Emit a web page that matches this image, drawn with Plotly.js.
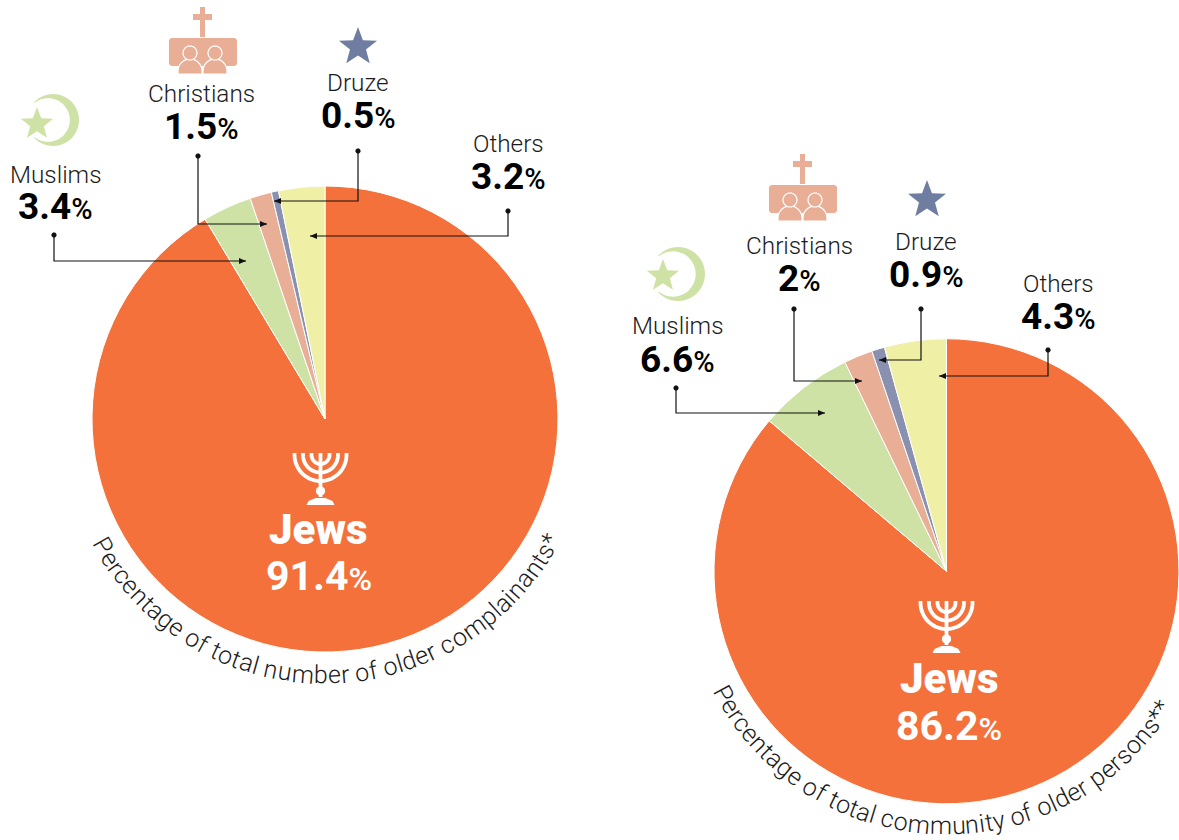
<!DOCTYPE html>
<html><head><meta charset="utf-8">
<script src="https://cdn.plot.ly/plotly-3.0.1.min.js"></script>
<style>html,body{margin:0;padding:0;background:#fff;overflow:hidden}#c{width:1179px;height:840px}</style>
</head><body><div id="c"></div>
<script>
// ---- data ----
const categories = ["Jews","Muslims","Christians","Druze","Others"];
const complainants = [91.4,3.4,1.5,0.5,3.2];
const community = [86.2,6.6,2,0.9,4.3];
const captionLeft = "Percentage of total number of older complainants*";
const captionRight = "Percentage of total community of older persons**";
const sliceColors = ["#F4713B","#CFE2A5","#E9AE96","#8A91B0","#EFEFA6"];
// ---- layout helpers ----
const W=1179,H=840;
const X=x=>x/W, Y=y=>1-y/H;
const FONT="Roboto", LIGHT=300;
const DARK="#1c1c1c";
const annotations=[],shapes=[];
function txt(x,y,text,size,weight,color){annotations.push({xref:'paper',yref:'paper',x:X(x),y:Y(y),text:text,showarrow:false,xanchor:'center',yanchor:'middle',font:{family:FONT,size:size,weight:weight,color:color}});}
function pct(v,size){return v+'<span style="font-size:'+Math.round(size*0.78)+'px;font-weight:500">%</span>';}
function label(x,y1,y2,name,v){txt(x,y1,name,24.3,LIGHT,DARK);txt(x,y2,pct(v,37),37,700,'#000');}
function pathOf(pts,close){return pts.map((p,i)=>(i?'L':'M')+X(p[0]).toFixed(5)+','+Y(p[1]).toFixed(5)).join(' ')+(close?' Z':'');}
function shape(pts,opt){shapes.push({type:'path',xref:'paper',yref:'paper',layer:'above',path:pathOf(pts,opt.close!==false),fillcolor:opt.fill||'rgba(0,0,0,0)',line:{color:opt.color||'rgba(0,0,0,0)',width:opt.width||0}});}
function arc(cx,cy,r,a0,a1,n){const o=[];n=n||32;for(let i=0;i<=n;i++){const a=(a0+(a1-a0)*i/n)*Math.PI/180;o.push([cx+r*Math.cos(a),cy+r*Math.sin(a)]);}return o;}
function star(cx,cy,r,fill){const p=[];for(let i=0;i<10;i++){const a=(-90+36*i)*Math.PI/180,R=i%2?r*0.42:r;p.push([cx+R*Math.cos(a),cy+R*Math.sin(a)]);}shape(p,{fill});}
function crescent(cx,cy,r,sx,sy,sr,fill){
  const ic=[cx-5,cy],ir=r*0.84;
  const outer=arc(cx,cy,r,-138,138,40), inner=arc(ic[0],ic[1],ir,128,-128,40);
  shape(outer.concat(inner),{fill});star(sx,sy,sr,fill);
}
function church(dx,dy,fill){
  const o=(x,y)=>[x+dx,y+dy];
  shape([o(200,7),o(205,7),o(205,14),o(212,14),o(212,20),o(205,20),o(205,37),o(200,37),o(200,20),o(193,20),o(193,14),o(200,14)],{fill});
  shape([o(171,38),o(235,38),o(237,40),o(237,64),o(235,66),o(171,66),o(169,64),o(169,40)],{fill});
  [190,215].forEach(c=>{
    const body=arc(c+dx,71+dy,12,180,360,16);
    shape([o(c-12,74),...body,o(c+12,74)],{fill,color:'#ffffff',width:1.2});
    shape(arc(c+dx,53+dy,7,0,360,28),{fill,color:'#ffffff',width:1.2});
  });
}
function menorah(dx,dy){
  const w='#ffffff',cx=320.5+dx,t=455+dy;
  [26,17.5,9].forEach(r=>shape([[cx-r,t-2],...arc(cx,t,r,180,0,28),[cx+r,t-2]],{close:false,color:w,width:3.8}));
  shape([[cx,t-2],[cx,t+42]],{close:false,color:w,width:3.8});
  shape(arc(cx,t+36,4.6,0,360,20),{fill:w});
  shape([[cx-14,t+50],[cx-12,t+46],[cx-5,t+43],[cx+5,t+43],[cx+12,t+46],[cx+14,t+50]],{fill:w});
}
function leader(pts){
  shape(pts,{close:false,color:'#111',width:1.2});
  const a=pts[pts.length-2],b=pts[pts.length-1],s=Math.sign(b[0]-a[0]);
  shape([[b[0],b[1]],[b[0]-s*7,b[1]-3],[b[0]-s*7,b[1]+3]],{fill:'#111'});
  shape(arc(pts[0][0],pts[0][1],2.6,0,360,16),{fill:'#111'});
}
function curved(str,cx,cy,r,startDeg,endDeg,size){
  const ctx=document.createElement('canvas').getContext('2d');
  ctx.font=LIGHT+' '+size+'px "'+FONT+'"';
  const ws=[...str].map(c=>ctx.measureText(c).width),tot=ws.reduce((a,b)=>a+b,0);
  const span=(startDeg+endDeg)*Math.PI/180;
  let acc=0;
  [...str].forEach((c,i)=>{
    const f=(acc+ws[i]/2)/tot; acc+=ws[i];
    if(c===' ')return;
    const th=(-startDeg*Math.PI/180)+span*f;
    const x=cx+r*Math.sin(th),y=cy+r*Math.cos(th);
    annotations.push({xref:'paper',yref:'paper',x:X(x),y:Y(y),text:c,showarrow:false,xanchor:'center',yanchor:'middle',textangle:-th*180/Math.PI,font:{family:FONT,size:size,weight:LIGHT,color:DARK}});
  });
}
// ---- traces ----
function pie(values,x0,x1,y0,y1){return {type:'pie',values:values,labels:categories,sort:false,direction:'clockwise',rotation:0,textinfo:'none',hoverinfo:'label+percent',showlegend:false,
  marker:{colors:sliceColors,line:{color:'#fff',width:1}},domain:{x:[X(x0),Math.min(1,X(x1))],y:[Y(y1),Y(y0)]}};}
const traces=[pie(complainants,92,558,186,652),pie(community,714,1179,338.5,804)];
// ---- left group ----
star(358,47,20,'#6F7DA1');
crescent(53,120,26,37,124,17,'#CFE2A5');
church(0,0,'#E9AE96');
menorah(0,0);
label(55,174,206,categories[1],complainants[1]);
label(201,93,126,categories[2],complainants[2]);
label(358,83,116,categories[3],complainants[3]);
label(508,143,176,categories[4],complainants[4]);
txt(319,529,categories[0],42,900,'#fff');txt(319,576,pct(complainants[0],41),41,700,'#fff');
leader([[54,235],[54,261],[246,261]]);
leader([[198,156],[198,224],[267,224]]);
leader([[358,151],[358,201],[274,201]]);
leader([[508,211],[508,236],[310,236]]);
curved(captionLeft,325,419,256,62,63,25);
// ---- right group ----
star(927,200,20,'#6F7DA1');
crescent(678,274,27,663,276,17,'#CFE2A5');
church(600,147,'#E9AE96');
menorah(626,148);
label(677,326,359,categories[1],community[1]);
label(799,245,279,categories[2],community[2]);
label(926,242,275,categories[3],community[3]);
label(1058,283,316,categories[4],community[4]);
txt(949,678,categories[0],42,900,'#fff');txt(949,726,pct(community[0],41),41,700,'#fff');
leader([[676,388],[676,413],[825,413]]);
leader([[794,309],[794,381],[862,381]]);
leader([[921,309],[921,360],[879,360]]);
leader([[1048,350],[1048,376],[939,376]]);
curved(captionRight,947,571,255,63,59,25);
Plotly.newPlot('c',traces,{width:W,height:H,margin:{l:0,r:0,t:0,b:0},paper_bgcolor:'#fff',plot_bgcolor:'#fff',shapes:shapes,annotations:annotations},{displayModeBar:false,responsive:false});
</script></body></html>
